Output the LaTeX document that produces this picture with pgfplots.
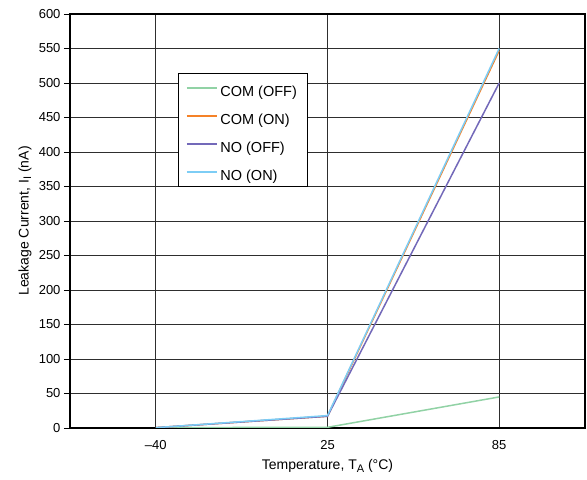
\documentclass[border=0pt]{standalone}
\usepackage{pgfplots}
\pgfplotsset{compat=1.18}
\usepackage{fontspec}
\setmainfont{Liberation Sans}
\definecolor{seriesA}{RGB}{145,210,165}
\definecolor{seriesB}{RGB}{245,130,40}
\definecolor{seriesC}{RGB}{115,105,185}
\definecolor{seriesD}{RGB}{125,205,245}
\begin{document}
\begin{tikzpicture}
\begin{axis}[
  name=ax,
  scale only axis,
  width=515pt, height=414pt,
  xmin=-0.5, xmax=2.5, ymin=0, ymax=600,
  xtick={0,1,2}, xticklabels={--40,25,85},
  ytick={0,50,...,600},
  major tick length=6pt,
  xtick style={draw=none},
  ytick style={black, line width=0.6pt},
  tick align=outside,
  tick pos=left,
  grid=major,
  major grid style={black!82, line width=0.8pt},
  axis line style={black, line width=1.2pt},
  /pgf/number format/assume math mode=true,
  ticklabel style={font=\fontsize{13}{15}\selectfont},
  xticklabel style={yshift=-3pt},
  xlabel={Temperature, T\raisebox{-0.35ex}{\fontsize{11}{12}\selectfont A} (°C)},
  ylabel={Leakage Current, I\raisebox{-0.35ex}{\fontsize{11}{12}\selectfont I} (nA)},
  xlabel style={font=\fontsize{14}{16}\selectfont, at={(axis description cs:0.5,0)}, anchor=center, yshift=-38pt},
  ylabel style={font=\fontsize{14}{16}\selectfont, at={(axis description cs:0,0.5)}, anchor=center, yshift=45pt},
  legend style={at={(0.2097,0.858)}, anchor=north west, draw=black, line width=0.8pt,
    font=\fontsize{14.5}{16}\selectfont, row sep=11pt, inner xsep=7.5pt, inner ysep=6pt,
    nodes={inner ysep=0pt, inner xsep=2.5pt, text height=17pt, text depth=0pt}},
  legend cell align=left,
  legend image code/.code={\draw[#1, line width=2pt] (0pt,0pt) -- (30pt,0pt);},
  every axis plot/.append style={line width=1.5pt},
]
\addplot[seriesA] coordinates {(0,0.5) (1,1) (2,45)};
\addlegendentry{COM (OFF)}
\addplot[seriesB] coordinates {(0,0.5) (1,17) (2,547)};
\addlegendentry{COM (ON)}
\addplot[seriesC] coordinates {(0,0.5) (1,17) (2,500)};
\addlegendentry{NO (OFF)}
\addplot[seriesD] coordinates {(0,0.5) (1,18) (2,550)};
\addlegendentry{NO (ON)}
\end{axis}
\pgfresetboundingbox
\path ([shift={(-70pt,-52pt)}]ax.south west) rectangle ([shift={(2pt,14pt)}]ax.north east);
\end{tikzpicture}
\end{document}
